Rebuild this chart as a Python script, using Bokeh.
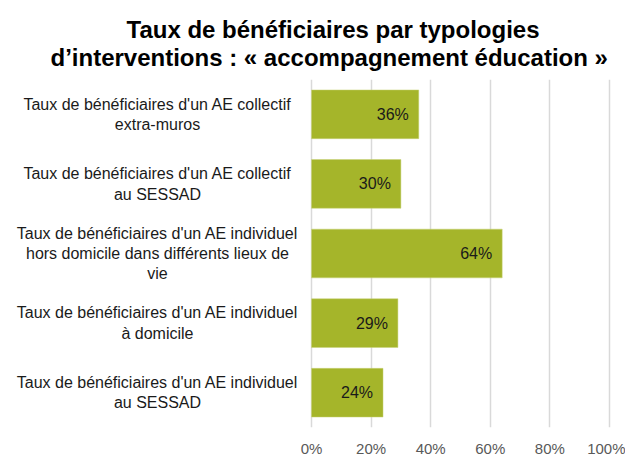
from bokeh.plotting import figure
from bokeh.models import Range1d, FactorRange, FixedTicker, NumeralTickFormatter, Title, ColumnDataSource
from bokeh.core.properties import value
from bokeh.embed import file_html
from bokeh.resources import INLINE

# ---- data ----
categories = [
    "Taux de bénéficiaires d'un AE collectif\nextra-muros",
    "Taux de bénéficiaires d'un AE collectif\nau SESSAD",
    "Taux de bénéficiaires d'un AE individuel\nhors domicile dans différents lieux de\nvie",
    "Taux de bénéficiaires d'un AE individuel\nà domicile",
    "Taux de bénéficiaires d'un AE individuel\nau SESSAD",
]
rates = [0.36, 0.30, 0.64, 0.29, 0.24]
rate_labels = ["36%", "30%", "64%", "29%", "24%"]
x_ticks = [0, 0.2, 0.4, 0.6, 0.8, 1.0]
title_line1 = "Taux de bénéficiaires par typologies"
title_line2 = "d\u2019interventions : « accompagnement éducation »"

FONT = "Liberation Sans"
BAR = "#a5b52a"

src = ColumnDataSource(dict(cat=categories, rate=rates, lab=rate_labels,
                            lx=[-0.517] * len(categories)))

p = figure(
    frame_width=609, frame_height=348,
    x_range=Range1d(-1.017, 1.027),
    y_range=FactorRange(factors=list(reversed(categories))),
    output_backend="svg", toolbar_location=None,
    min_border_left=8, min_border_right=8, min_border_top=79, min_border_bottom=0,
)
p.outline_line_color = None
p.background_fill_color = "white"
p.border_fill_color = "white"

p.title.text = title_line1
p.title.align = "left"
p.title.offset = 118
p.title.text_font = FONT
p.title.text_font_size = "24px"
p.title.text_font_style = "bold"
p.title.text_color = "#000000"
p.title.standoff = -20
t2 = Title(text=title_line2, align="left", offset=42, text_font=FONT, standoff=18,
           text_font_size="24px", text_font_style="bold", text_color="#000000")
p.add_layout(t2, "above")

p.hbar(y="cat", left=0, right="rate", height=0.7, source=src,
       fill_color=BAR, line_color="#c8d27a", line_width=0.5)

p.text(x="rate", y="cat", text="lab", source=src, x_offset=-10,
       text_align="right", text_baseline="middle",
       text_font=value(FONT), text_font_size="16px", text_color="#1a1a1a")

p.text(x="lx", y="cat", text="cat", source=src,
       text_align="center", text_baseline="middle", text_line_height=1.2,
       text_font=value(FONT), text_font_size="16px", text_color="#1a1a1a")

p.yaxis.visible = False
p.ygrid.grid_line_color = None

p.xaxis.ticker = FixedTicker(ticks=x_ticks)
p.xaxis.formatter = NumeralTickFormatter(format="0%")
p.xaxis.bounds = (0, 1)
p.xaxis.axis_line_color = None
p.xaxis.major_tick_line_color = None
p.xaxis.minor_tick_line_color = None
p.xaxis.major_label_text_font = FONT
p.xaxis.major_label_text_font_size = "15px"
p.xaxis.major_label_text_color = "#595959"
p.xaxis.major_label_standoff = 6

p.xgrid.ticker = FixedTicker(ticks=x_ticks)
p.xgrid.bounds = (0, 1)
p.xgrid.grid_line_color = "#d9d9d9"
p.xgrid.grid_line_width = 1.5

open("out.html", "w").write(file_html(p, INLINE))
